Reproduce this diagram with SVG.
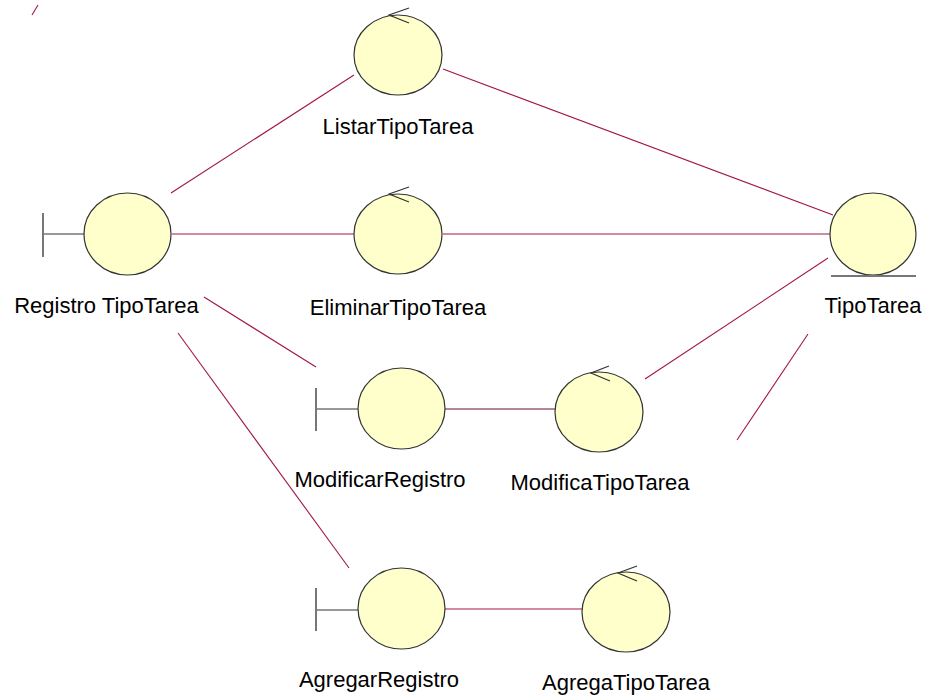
<svg xmlns="http://www.w3.org/2000/svg" width="932" height="699" viewBox="0 0 932 699">
<style>
.n{fill:#FFFFCC;stroke:#333;stroke-width:1.2}
.k{stroke:#333;stroke-width:1.2;fill:none}
.g{stroke:#777;stroke-width:2;fill:none}
.c{stroke:#A3164A;stroke-width:1.1;fill:none}
.d{stroke:#6A1030;stroke-width:1.1;fill:none}
text{font-family:"Liberation Sans",Arial,sans-serif;font-size:22px;fill:#000;text-anchor:middle}
</style>
<rect width="932" height="699" fill="#fff"/>
<g id="connectors">
<line class="c" x1="32" y1="15" x2="38" y2="5"/>
<line class="c" x1="171" y1="193" x2="354" y2="75"/>
<line class="c" x1="443" y1="69" x2="833" y2="215"/>
<line class="c" x1="172" y1="234" x2="354" y2="234"/>
<line class="c" x1="443" y1="234" x2="830" y2="234"/>
<line class="c" x1="204" y1="297" x2="316" y2="367"/>
<line class="c" x1="178" y1="333" x2="349" y2="568"/>
<line class="d" x1="445" y1="409" x2="555" y2="409"/>
<line class="c" x1="645" y1="379" x2="828" y2="258"/>
<line class="c" x1="737" y1="440" x2="808" y2="334"/>
<line class="c" x1="445" y1="609" x2="582" y2="609"/>
</g>
<g id="ListarTipoTarea">
<ellipse class="n" cx="398" cy="55" rx="44" ry="40"/>
<polyline class="k" points="409,8 389,15 409,23"/>
<text x="398" y="134">ListarTipoTarea</text>
</g>
<g id="RegistroTipoTarea">
<line class="k" x1="43" y1="234" x2="84" y2="234"/>
<line class="g" x1="43" y1="213" x2="43" y2="257"/>
<ellipse class="n" cx="127.5" cy="234" rx="43.5" ry="41"/>
<text x="106.5" y="313">Registro TipoTarea</text>
</g>
<g id="EliminarTipoTarea">
<ellipse class="n" cx="398" cy="234" rx="44" ry="40"/>
<polyline class="k" points="409,187 389,194 409,202"/>
<text x="398" y="315">EliminarTipoTarea</text>
</g>
<g id="TipoTarea">
<ellipse class="n" cx="873" cy="234" rx="43" ry="41"/>
<line class="g" x1="831" y1="276" x2="916" y2="276"/>
<text x="873" y="313">TipoTarea</text>
</g>
<g id="ModificarRegistro">
<line class="k" x1="316" y1="409" x2="358" y2="409"/>
<line class="g" x1="316" y1="388" x2="316" y2="431"/>
<ellipse class="n" cx="401.5" cy="408.5" rx="43.5" ry="40.5"/>
<text x="380" y="487">ModificarRegistro</text>
</g>
<g id="ModificaTipoTarea">
<ellipse class="n" cx="599" cy="412" rx="44" ry="40"/>
<polyline class="k" points="609,366 591,373 610,381"/>
<text x="600" y="490">ModificaTipoTarea</text>
</g>
<g id="AgregarRegistro">
<line class="k" x1="316" y1="610" x2="358" y2="610"/>
<line class="g" x1="316" y1="588" x2="316" y2="631"/>
<ellipse class="n" cx="401.5" cy="608.5" rx="43.5" ry="40.5"/>
<text x="379" y="687">AgregarRegistro</text>
</g>
<g id="AgregaTipoTarea">
<ellipse class="n" cx="626" cy="612" rx="44" ry="40"/>
<polyline class="k" points="637,566 618,573 637,581"/>
<text x="626" y="690">AgregaTipoTarea</text>
</g>
</svg>
